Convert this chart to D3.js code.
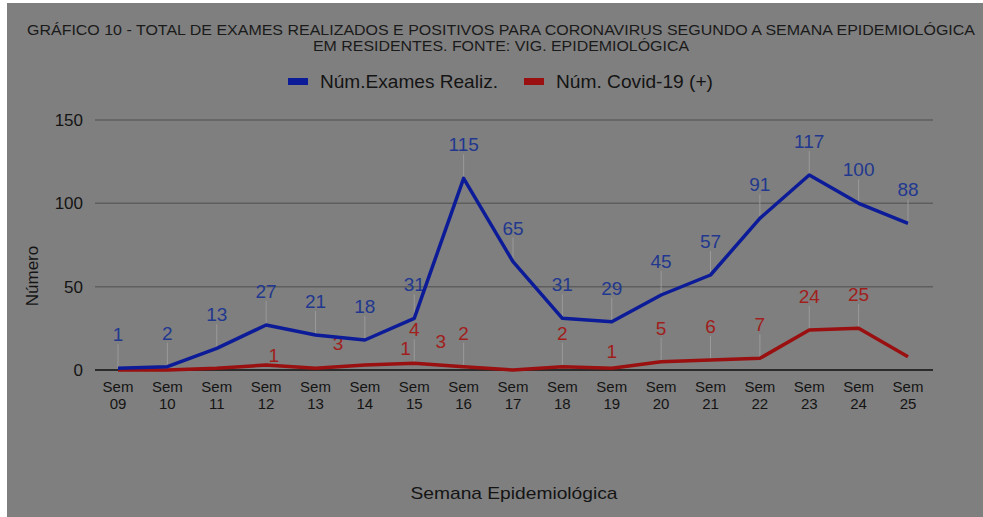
<!DOCTYPE html>
<html>
<head>
<meta charset="utf-8">
<script src="https://cdn.jsdelivr.net/npm/d3@7"></script>
<style>
  html, body { margin: 0; padding: 0; background: #fff; }
  svg { display: block; }
  text { font-family: Arial, 'Liberation Sans', sans-serif; }
</style>
</head>
<body>
<svg id="chart" width="983" height="517"></svg>
<script>
const weeks = ['09', '10', '11', '12', '13', '14', '15', '16', '17', '18', '19', '20', '21', '22', '23', '24', '25']
const exams = [1, 2, 13, 27, 21, 18, 31, 115, 65, 31, 29, 45, 57, 91, 117, 100, 88]
const positives = [0, 0, 1, 3, 1, 3, 4, 2, 0, 2, 1, 5, 6, 7, 24, 25, 8]
const yTicks = [0, 50, 100, 150]
const titleLines = [
  'GRÁFICO 10 - TOTAL DE EXAMES REALIZADOS E POSITIVOS PARA CORONAVIRUS SEGUNDO A SEMANA EPIDEMIOLÓGICA',
  'EM RESIDENTES. FONTE: VIG. EPIDEMIOLÓGICA'
]
const seriesNames = ['Núm.Exames Realiz.', 'Núm. Covid-19 (+)']

// annotation collisions in the original are moved around, kept here as layout only
const redLabelMoves = { 2: [57, 21], 3: [72, 12], 4: [90, 14], 5: [76, 10], 10: [0, 17], 16: 'hide' }

window.addEventListener('DOMContentLoaded', init)

function init () {
  const svg = d3.select('#chart')
  const colors = { blue: '#0c1b98', blueText: '#22388f', red: '#9a0f0f', redText: '#a01e1c' }

  svg.append('rect').attr('x', 7).attr('y', 3).attr('width', 976).attr('height', 514).attr('fill', '#7f7f7f')

  const x = d3.scalePoint().domain(weeks).range([118, 908])
  const y = d3.scaleLinear().domain([0, 150]).range([370, 120])

  buildTitle(svg)
  buildLegend(svg, colors)

  // grid + y axis
  const yAxis = svg.append('g')
  yAxis.selectAll('line').data(yTicks).enter().append('line')
    .attr('x1', 95).attr('x2', 933)
    .attr('y1', d => y(d)).attr('y2', d => y(d))
    .attr('stroke', d => d === 0 ? '#2b2b2b' : '#5e5e5e')
    .attr('stroke-width', d => d === 0 ? 2 : 1.5)
  yAxis.selectAll('text').data(yTicks).enter().append('text')
    .attr('x', 83).attr('y', d => y(d) + 6)
    .attr('text-anchor', 'end')
    .attr('font-size', 17)
    .attr('fill', '#141414')
    .text(d => d)

  svg.append('text')
    .attr('transform', 'translate(38, 276) rotate(-90)')
    .attr('text-anchor', 'middle')
    .attr('font-size', 17)
    .attr('fill', '#141414')
    .text('Número')

  // x axis labels, two lines each
  const xAxis = svg.append('g')
  xAxis.selectAll('.sem').data(weeks).enter().append('text')
    .attr('class', 'sem')
    .attr('x', d => x(d)).attr('y', 392)
    .attr('text-anchor', 'middle')
    .attr('font-size', 15)
    .attr('fill', '#141414')
    .text('Sem')
  xAxis.selectAll('.num').data(weeks).enter().append('text')
    .attr('class', 'num')
    .attr('x', d => x(d)).attr('y', 409)
    .attr('text-anchor', 'middle')
    .attr('font-size', 15)
    .attr('fill', '#141414')
    .text(d => d)

  svg.append('text')
    .attr('x', 514).attr('y', 499)
    .attr('text-anchor', 'middle')
    .attr('font-size', 17)
    .attr('textLength', 207)
    .attr('lengthAdjust', 'spacingAndGlyphs')
    .attr('fill', '#141414')
    .text('Semana Epidemiológica')

  // stems + labels
  drawAnnotations(svg, x, y, exams, colors.blueText, {})
  drawAnnotations(svg, x, y, positives, colors.redText, redLabelMoves)

  const line = data => d3.line().x((d, i) => x(weeks[i])).y(d => y(d))(data)
  svg.append('path').attr('d', line(positives))
    .attr('fill', 'none').attr('stroke', colors.red).attr('stroke-width', 3.5).attr('stroke-linejoin', 'round')
  svg.append('path').attr('d', line(exams))
    .attr('fill', 'none').attr('stroke', colors.blue).attr('stroke-width', 3.5).attr('stroke-linejoin', 'round')
}

function drawAnnotations (svg, x, y, values, color, moves) {
  const items = values.map((v, i) => ({ v, i, move: moves[i] }))
    .filter(d => d.v !== 0 && d.move !== 'hide')
  const g = svg.append('g')
  g.selectAll('line').data(items.filter(d => !d.move)).enter().append('line')
    .attr('x1', d => x(weeks[d.i])).attr('x2', d => x(weeks[d.i]))
    .attr('y1', d => y(d.v)).attr('y2', d => y(d.v) - 24)
    .attr('stroke', '#9a9a9a').attr('stroke-width', 1)
  g.selectAll('text').data(items).enter().append('text')
    .attr('x', d => x(weeks[d.i]) + (d.move ? d.move[0] : 0))
    .attr('y', d => y(d.v) - 27 + (d.move ? d.move[1] : 0))
    .attr('text-anchor', 'middle')
    .attr('font-family', 'Roboto, Arial, sans-serif')
    .attr('font-weight', 500)
    .attr('font-size', 19)
    .attr('fill', color)
    .text(d => d.v)
}

function buildTitle (svg) {
  const widths = [948, 376]
  svg.selectAll('.title').data(titleLines).enter().append('text')
    .attr('class', 'title')
    .attr('x', 501).attr('y', (d, i) => 35 + i * 16)
    .attr('text-anchor', 'middle')
    .attr('font-size', 14)
    .attr('textLength', (d, i) => widths[i])
    .attr('lengthAdjust', 'spacingAndGlyphs')
    .attr('fill', '#1a1a1a')
    .text(d => d)
}

function buildLegend (svg, colors) {
  const items = [
    { name: seriesNames[0], color: colors.blue, sx: 288, tx: 320, w: 178 },
    { name: seriesNames[1], color: colors.red, sx: 524, tx: 556, w: 157 }
  ]
  const g = svg.append('g')
  g.selectAll('rect').data(items).enter().append('rect')
    .attr('x', d => d.sx).attr('y', 78).attr('width', 20).attr('height', 7)
    .attr('fill', d => d.color)
  g.selectAll('text').data(items).enter().append('text')
    .attr('x', d => d.tx).attr('y', 88)
    .attr('font-size', 19)
    .attr('textLength', d => d.w)
    .attr('lengthAdjust', 'spacingAndGlyphs')
    .attr('fill', '#141414')
    .text(d => d.name)
}
</script>
</body>
</html>
